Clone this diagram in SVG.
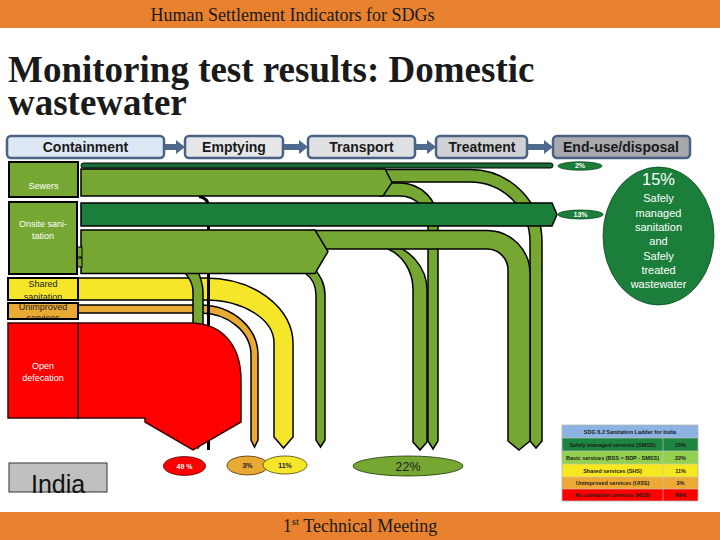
<svg xmlns="http://www.w3.org/2000/svg" width="720" height="540" viewBox="0 0 720 540">
<defs>
<style>
.band{stroke:#000;stroke-width:1.5;stroke-linejoin:miter}
.lg{fill:#77a733}
.dg{fill:#1b7f3b}
.yl{fill:#f6e62a}
.or{fill:#e9a935}
.rd{fill:#ff0000}
.box{stroke:#000;stroke-width:2}
.stage{stroke:#4a6283;stroke-width:2.5}
.stxt{font-family:"Liberation Sans",Arial,sans-serif;font-weight:bold;font-size:14px;fill:#1a1a1a;text-anchor:middle}
.lbl{font-family:"Liberation Sans",Arial,sans-serif;font-size:9px;text-anchor:middle}
.arr{fill:#4f6a8d}
.pct{font-family:"Liberation Sans",Arial,sans-serif;font-size:7px;text-anchor:middle;font-weight:bold}
.tt{font-family:"Liberation Sans",Arial,sans-serif;font-size:5.5px;text-anchor:middle;fill:#1a1a1a;font-weight:bold}
.serif{font-family:"Liberation Serif","Times New Roman",serif;fill:#1a1a1a}
</style>
<clipPath id="cShared"><rect x="9" y="279" width="68" height="20.5"/></clipPath>
<clipPath id="cUnimp"><rect x="9" y="304" width="68" height="14.5"/></clipPath>
</defs>
<rect x="0" y="0" width="720" height="540" fill="#ffffff"/>

<g id="header">
<rect x="0" y="0" width="720" height="28" fill="#e8822e"/>
<text class="serif" x="292.5" y="21" font-size="18" text-anchor="middle">Human Settlement Indicators for SDGs</text>
</g>
<g id="title">
<text class="serif" x="8" y="82" font-size="37" font-weight="bold" fill="#000"><tspan x="8" y="82">Monitoring test results: Domestic</tspan><tspan x="8" y="115">wastewater</tspan></text>
</g>

<g id="stage-arrows">
<polygon class="arr" points="165,144 176,144 176,140 185,147 176,154 176,150 165,150"/>
<polygon class="arr" points="284,144 299,144 299,140 308,147 299,154 299,150 284,150"/>
<polygon class="arr" points="416,144 427,144 427,140 436,147 427,154 427,150 416,150"/>
<polygon class="arr" points="528,144 544,144 544,140 553,147 544,154 544,150 528,150"/>
</g>
<g id="stage-containment"><rect class="stage" x="7" y="136" width="157" height="22" rx="4" fill="#dce8f4"/><text class="stxt" x="85.5" y="152">Containment</text></g>
<g id="stage-emptying"><rect class="stage" x="185" y="136" width="98" height="22" rx="4" fill="#e5e6e8"/><text class="stxt" x="234" y="152">Emptying</text></g>
<g id="stage-transport"><rect class="stage" x="308" y="136" width="107" height="22" rx="4" fill="#dfe0e2"/><text class="stxt" x="361.5" y="152">Transport</text></g>
<g id="stage-treatment"><rect class="stage" x="436" y="136" width="91" height="22" rx="4" fill="#cfd1d4"/><text class="stxt" x="482" y="152">Treatment</text></g>
<g id="stage-enduse"><rect class="stage" x="553" y="136" width="137" height="22" rx="4" fill="#a7a9ad"/><text class="stxt" x="621" y="152">End-use/disposal</text></g>

<g id="connectors">
<path class="band yl" d="M70 278H205A88 65 0 0 1 293 343V437L283.5 448L274 437V343A69 43 0 0 0 205 300H70Z"/>
<path class="band or" d="M70 305H200A58 50 0 0 1 258 355V440L254.5 447L251 440V355A51 42 0 0 0 200 313H70Z"/>
<path class="band lg" d="M180 266H196C201 278 203 284 203 292V440L198 448L193 440V292C193 284 190 278 184 272Z"/>
<path d="M199 196.5Q208.5 198 208.5 207V450" fill="none" stroke="#000" stroke-width="3"/>
<path class="band lg" d="M380 169.5H470A72 72 0 0 1 542 241.5V441L536 448L530 441V242A60 60 0 0 0 470 182H380Z"/>
<path class="band lg" d="M380 183H400A38 38 0 0 1 438 221V441L433 449L428 441V224A28 28 0 0 0 400 196H380Z"/>
<path class="band lg" d="M81 169H385L392 182.5L383 196H81Z"/>
<rect x="81" y="163" width="472" height="5" rx="2.5" fill="#1b6b38" stroke="#000" stroke-width="1"/>
<path class="band lg" d="M385 244H392C408 250 427 265 427 290V442L420 450L413 442V290C413 270 402 255 388 249Z"/>
<path class="band lg" d="M310 230.5H487A43 43 0 0 1 530 273.5V441L519 450L508 441V270A21 21 0 0 0 487 249H310Z"/>
<path class="band lg" d="M300 266H313C320 276 325 283 325 295V440L320.5 447L316 440V295C316 285 312 278 305 273Z"/>
<path class="band lg" d="M81 230H315L328 251.5L315 273.5H81Z"/>
<rect class="lg" x="77" y="247" width="5" height="10" stroke="#000" stroke-width="1"/>
<rect class="lg" x="77" y="258" width="5" height="9" stroke="#000" stroke-width="1"/>
<path class="band dg" d="M81 203H552L557 214.5L552 226H81Z"/>
<path class="rd" d="M78 323H190C222 323 241 345 241 380V422L193 450L145 422V418H78Z" stroke="#3a0000" stroke-width="1.5"/>
</g>

<g id="node-sewers">
<rect class="box lg" x="9" y="162" width="69" height="35"/>
<text class="lbl" x="43.5" y="189" fill="#fff">Sewers</text>
</g>
<g id="node-onsite">
<rect class="box lg" x="9" y="202" width="68" height="72"/>
<text class="lbl" x="43" y="227" fill="#fff">Onsite sani-</text>
<text class="lbl" x="43" y="239" fill="#fff">tation</text>
</g>
<g id="node-shared">
<rect class="box yl" x="8" y="278" width="70" height="22"/>
<g clip-path="url(#cShared)">
<text class="lbl" x="43" y="287" fill="#222">Shared</text>
<text class="lbl" x="43" y="299.5" fill="#222">sanitation</text>
</g>
</g>
<g id="node-unimproved">
<rect class="box or" x="8" y="303" width="70" height="16"/>
<g clip-path="url(#cUnimp)">
<text class="lbl" x="43" y="309.5" fill="#222">Unimproved</text>
<text class="lbl" x="43" y="321" fill="#222">services</text>
</g>
</g>
<g id="node-opendef">
<rect class="rd" x="8" y="323" width="70" height="95" stroke="#3a0000" stroke-width="1.5"/>
<text class="lbl" x="43" y="369" fill="#fff">Open</text>
<text class="lbl" x="43" y="381" fill="#fff">defecation</text>
</g>

<g id="node-india">
<rect x="9" y="463" width="98" height="29" fill="#c0c0c0" stroke="#333" stroke-width="1"/>
<text x="31" y="492.5" font-family="'Liberation Sans',Arial,sans-serif" font-size="25" fill="#111">India</text>
</g>

<g id="out-2">
<ellipse cx="580" cy="166" rx="22" ry="4.2" fill="#1b7f3b" stroke="#0d4a20" stroke-width="0.8"/>
<text class="pct" x="580" y="168.3" font-size="5.5" fill="#fff">2%</text>
</g>
<g id="out-13">
<ellipse cx="580.5" cy="214.5" rx="22.5" ry="4.5" fill="#1b7f3b" stroke="#0d4a20" stroke-width="0.8"/>
<text class="pct" x="580.5" y="216.8" font-size="5.5" fill="#fff">13%</text>
</g>
<g id="out-15">
<ellipse cx="658.5" cy="236" rx="55.5" ry="69" fill="#1b7f3b" stroke="#0d4a20" stroke-width="0.8"/>
<g font-family="'Liberation Sans',Arial,sans-serif" fill="#fff" text-anchor="middle">
<text x="658.5" y="185" font-size="16.5">15%</text>
<text x="658.5" y="202" font-size="11">Safely</text>
<text x="658.5" y="216.5" font-size="11">managed</text>
<text x="658.5" y="231" font-size="11">sanitation</text>
<text x="658.5" y="245" font-size="11">and</text>
<text x="658.5" y="259.5" font-size="11">Safely</text>
<text x="658.5" y="274" font-size="11">treated</text>
<text x="658.5" y="288" font-size="11">wastewater</text>
</g>
</g>
<g id="out-49">
<ellipse cx="184.5" cy="466" rx="21" ry="9.5" fill="#ff0000" stroke="#5a0000" stroke-width="0.8"/>
<text class="pct" x="184.5" y="468.5" fill="#fff">49 %</text>
</g>
<g id="out-3">
<ellipse cx="247.5" cy="465.5" rx="20.5" ry="9.5" fill="#e9a935" stroke="#4a3000" stroke-width="0.8"/>
<text class="pct" x="247.5" y="468" fill="#222">3%</text>
</g>
<g id="out-11">
<ellipse cx="285" cy="465" rx="22" ry="9" fill="#f6e62a" stroke="#4a4000" stroke-width="0.8"/>
<text class="pct" x="285" y="467.5" fill="#222">11%</text>
</g>
<g id="out-22">
<ellipse cx="408" cy="466" rx="55" ry="10" fill="#77a733" stroke="#1e3300" stroke-width="0.8"/>
<text x="408" y="470.5" font-family="'Liberation Sans',Arial,sans-serif" font-size="12.5" text-anchor="middle" fill="#1a1a1a">22%</text>
</g>

<g id="ladder">
<rect x="562" y="425" width="136" height="13" fill="#8db3e2"/>
<rect x="562" y="438" width="136" height="13" fill="#1e8541"/>
<rect x="562" y="451" width="136" height="13" fill="#92d050"/>
<rect x="562" y="464" width="136" height="13" fill="#f7e720"/>
<rect x="562" y="477" width="136" height="12" fill="#eea935"/>
<rect x="562" y="489" width="136" height="12" fill="#ff0000"/>
<path d="M663 438V501M562 438H698M562 451H698M562 464H698M562 477H698M562 489H698" stroke="#c8c8c8" stroke-width="0.6" fill="none"/>
<rect x="562" y="425" width="136" height="76" fill="none" stroke="#b5b5b5" stroke-width="0.8"/>
<text class="tt" x="630" y="433.5">SDG 6.2 Sanitation Ladder for India</text>
<text class="tt" x="612.5" y="446.5">Safely managed services (SMSS)</text>
<text class="tt" x="680.5" y="446.5">15%</text>
<text class="tt" x="612.5" y="459.5">Basic services (BSS = BDP - SMSS)</text>
<text class="tt" x="680.5" y="459.5">22%</text>
<text class="tt" x="612.5" y="472.5">Shared services (SHS)</text>
<text class="tt" x="680.5" y="472.5">11%</text>
<text class="tt" x="612.5" y="485">Unimproved services (UISS)</text>
<text class="tt" x="680.5" y="485">3%</text>
<text class="tt" x="612.5" y="497" fill="#8b0000">No sanitation services (NSS)</text>
<text class="tt" x="680.5" y="497" fill="#8b0000">49%</text>
</g>

<g id="footer">
<rect x="0" y="512" width="720" height="28" fill="#e8822e"/>
<text class="serif" x="360" y="532" font-size="18" text-anchor="middle">1<tspan font-size="11" dy="-7">st</tspan><tspan dy="7"> Technical Meeting</tspan></text>
</g>
</svg>
